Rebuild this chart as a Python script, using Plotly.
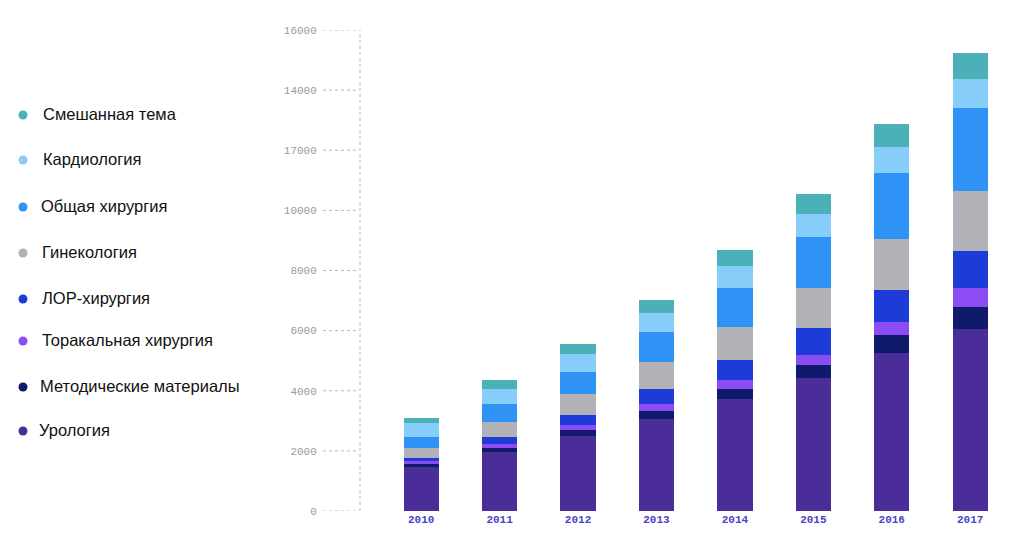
import plotly.graph_objects as go

years = ["2010", "2011", "2012", "2013", "2014", "2015", "2016", "2017"]

# bottom -> top stacking order
series_names = [
    "Урология",
    "Методические материалы",
    "Торакальная хирургия",
    "ЛОР-хирургия",
    "Гинекология",
    "Общая хирургия",
    "Кардиология",
    "Смешанная тема",
]
urology = [1474, 1963, 2505, 3051, 3725, 4434, 5246, 6065]
metod = [80, 143, 190, 286, 335, 423, 619, 731]
thoracic = [133, 123, 166, 223, 300, 343, 422, 612]
lor = [66, 243, 333, 509, 665, 898, 1065, 1251]
gynecology = [353, 489, 688, 878, 1108, 1330, 1687, 1996]
general_surgery = [366, 588, 752, 1008, 1297, 1687, 2195, 2751]
cardiology = [465, 510, 579, 642, 722, 765, 885, 965]
mixed = [167, 299, 333, 422, 533, 666, 745, 855]

series_values = [urology, metod, thoracic, lor, gynecology, general_surgery, cardiology, mixed]
colors = ["#4a2d98", "#0f1a6a", "#8b4cf4", "#1d3bd6", "#b0b2b8", "#2f93f5", "#87cdf9", "#4cb0b9"]

tick_vals = [0, 2000, 4000, 6000, 8000, 10000, 12000, 14000, 16000]
tick_text = ["0", "2000", "4000", "6000", "8000", "10000", "17000", "14000", "16000"]

# figure geometry (pixels)
L, R, T, B = 352, 22, 22, 53
W = 1014 - L - R
H = 556 - T - B


def px_x(p):
    return (p - L) / W


def px_y(p):
    return (556 - B - p) / H


fig = go.Figure()
for name, vals, col in zip(series_names, series_values, colors):
    fig.add_trace(go.Bar(x=years, y=vals, name=name, marker=dict(color=col, line=dict(width=0)),
                         width=0.45, showlegend=False))

# dotted tick connectors and dotted axis line
shapes = []
for v in tick_vals:
    shapes.append(dict(type="line", xref="paper", yref="y", x0=px_x(315), x1=px_x(350), y0=v, y1=v,
                       line=dict(color="#b8b8b8", width=1, dash="dot")))
shapes.append(dict(type="line", xref="paper", yref="y", x0=0, x1=0, y0=0, y1=16000,
                   line=dict(color="#b8b8b8", width=1, dash="dot")))

# manual legend (top item = top of stack)
legend_y = [423, 379, 333, 291, 245, 199, 152, 107]   # pixel rows, same order as series_names
legend_tx = [29, 30, 32, 32, 32, 31, 33, 33]
annotations = []
for name, col, yy, tx in zip(series_names, colors, legend_y, legend_tx):
    shapes.append(dict(type="circle", xref="paper", yref="paper",
                       xsizemode="pixel", ysizemode="pixel",
                       xanchor=px_x(15), yanchor=px_y(yy),
                       x0=-4.5, x1=4.5, y0=-4.5, y1=4.5,
                       fillcolor=col, line=dict(width=0)))
    annotations.append(dict(text=name, xref="paper", yref="paper", x=px_x(tx), y=px_y(yy - 1),
                            xanchor="left", yanchor="middle", showarrow=False,
                            font=dict(family="Liberation Sans", size=16.5, color="#111111")))

fig.update_layout(
    width=1014, height=556,
    margin=dict(l=L, r=R, t=T, b=B),
    plot_bgcolor="white", paper_bgcolor="white",
    barmode="stack",
    shapes=shapes,
    annotations=annotations,
    showlegend=False,
    xaxis=dict(type="category", range=[-0.78, 7.38], showgrid=False, zeroline=False,
               showline=False, ticks="",
               tickfont=dict(family="Liberation Mono", size=11, color="#4b44c8", weight="bold")),
    yaxis=dict(range=[0, 16000], tickvals=tick_vals, ticktext=tick_text,
               showgrid=False, zeroline=False, showline=False,
               ticks="outside", ticklen=40, tickcolor="rgba(0,0,0,0)",
               tickfont=dict(family="Liberation Mono", size=11, color="#9a9a9a")),
)

fig.write_html("out.html")
